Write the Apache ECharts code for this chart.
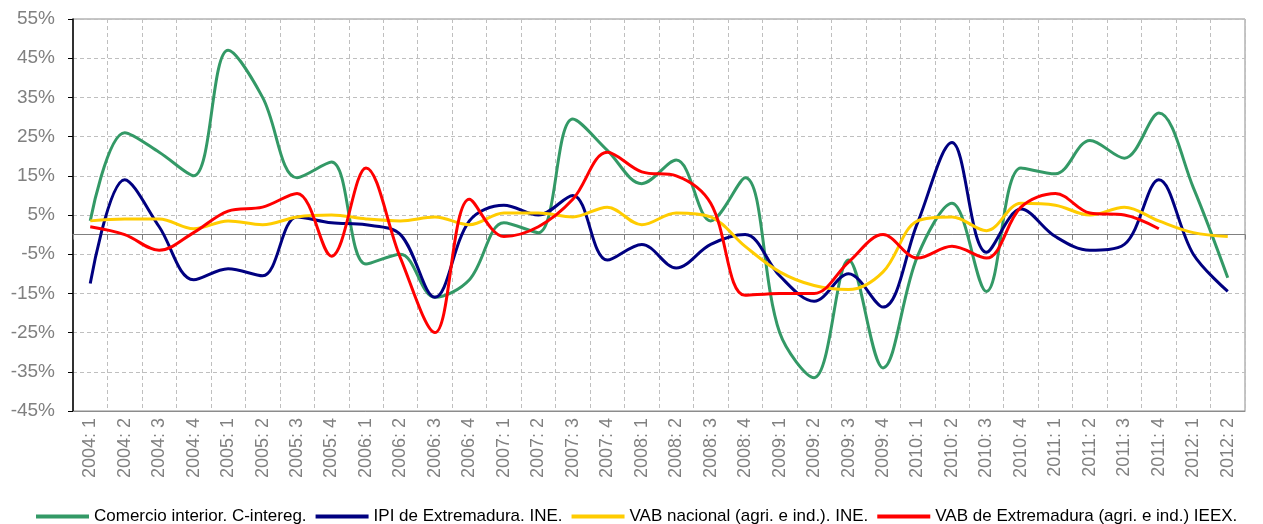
<!DOCTYPE html>
<html>
<head>
<meta charset="utf-8">
<script src="https://cdn.jsdelivr.net/npm/echarts@6/dist/echarts.min.js"></script>
<style>
  html, body { margin: 0; padding: 0; background: #fff; }
  #chart { width: 1263px; height: 524px; }
</style>
</head>
<body>
<div id="chart"></div>
<script>
  // trimestres
  var quarters = [
    '2004:1', '2004:2', '2004:3', '2004:4', '2005:1', '2005:2', '2005:3', '2005:4',
    '2006:1', '2006:2', '2006:3', '2006:4', '2007:1', '2007:2', '2007:3', '2007:4',
    '2008:1', '2008:2', '2008:3', '2008:4', '2009:1', '2009:2', '2009:3', '2009:4',
    '2010:1', '2010:2', '2010:3', '2010:4', '2011:1', '2011:2', '2011:3', '2011:4',
    '2012:1', '2012:2'
  ];

  var seriesNames = [
    'Comercio interior. C-intereg.',
    'IPI de Extremadura. INE.',
    'VAB nacional (agri. e ind.). INE.',
    'VAB de Extremadura (agri. e ind.) IEEX.'
  ];

  // tasas de variación (%)
  var comercio = [3.5, 26, 21, 15, 47, 35, 14.5, 18.5, -7.5, -5, -16, -11.5, 3, 0.5, 29.5, 21.5,
    13, 19, 3.5, 14.5, -25, -36.5, -6.5, -34, -5.5, 8, -14.5, 17, 15.5, 24, 19.5, 31, 12, -11];
  var ipi = [-12.5, 14, 2, -11.5, -8.7, -10.5, 4.5, 3, 2.5, 0, -16, 3.5, 7.5, 5, 10, -6.5,
    -2.5, -8.5, -2.5, 0, -10.5, -17, -10, -18.5, 3, 23.5, -4.5, 6.5, -0.5, -4, -2.5, 14, -5, -14.5];
  var vabNacional = [3.5, 4, 4, 1.5, 3.5, 2.5, 4.5, 5, 4, 3.5, 4.5, 2.5, 5.5, 5.5, 4.5, 7,
    2.5, 5.5, 4.5, -3, -9.5, -13, -14, -9.5, 3.5, 4.5, 1, 8, 7.5, 5, 7, 3.5, 0.5, -0.5];
  var vabExtremadura = [2, 0, -4, 0.5, 6, 7, 10.5, -5.5, 17, -6, -25, 9, -0.5, 2, 9, 21,
    16, 15, 8, -15.5, -15, -15, -7, 0, -6, -3, -6, 7, 10.5, 5.5, 5, 1.5, null, null];

  var yTicks = { min: -45, max: 55, step: 10 };

  var colors = ['#339966', '#000080', '#FFCC00', '#FF0000'];
  var font = 'Liberation Sans, Arial, sans-serif';

  var chart = echarts.init(document.getElementById('chart'));

  function lineSeries(name, data, color) {
    return {
      name: name,
      type: 'line',
      data: data,
      xAxisIndex: 0,
      smooth: 0.35,
      showSymbol: false,
      connectNulls: false,
      lineStyle: { width: 3, color: color },
      itemStyle: { color: color }
    };
  }

  chart.setOption({
    animation: false,
    textStyle: { fontFamily: font },
    color: colors,
    grid: {
      left: 73, right: 18, top: 19, bottom: 113,
      show: true, borderColor: '#8c8c8c', borderWidth: 1
    },
    legend: {
      top: 508,
      left: 36,
      padding: 0,
      icon: 'rect',
      itemWidth: 53,
      itemHeight: 4,
      itemGap: 9,
      textStyle: { fontSize: 17, color: '#000', fontFamily: font },
      data: seriesNames
    },
    xAxis: [{
      type: 'category',
      data: quarters,
      position: 'bottom',
      axisLine: { onZero: false, lineStyle: { color: '#8c8c8c', width: 1 } },
      axisTick: { show: false },
      axisLabel: {
        rotate: 90, fontSize: 18, color: '#808080', margin: 7, interval: 0,
        formatter: function (v) { return v.replace(':', ': '); }
      },
      splitLine: { show: true, interval: 0, lineStyle: { color: '#bfbfbf', type: [4, 3], width: 1 } }
    }, {
      type: 'category',
      data: quarters,
      position: 'top',
      axisLine: { onZero: true, lineStyle: { color: '#808080', width: 1 } },
      axisTick: { show: true, inside: true, length: 5, interval: 0, lineStyle: { color: '#808080' } },
      axisLabel: { show: false },
      splitLine: { show: false }
    }],
    yAxis: {
      type: 'value',
      min: yTicks.min,
      max: yTicks.max,
      interval: yTicks.step,
      axisLine: { show: true, onZero: false, lineStyle: { color: '#000', width: 1.5 } },
      axisTick: { show: true, length: 5, lineStyle: { color: '#000' } },
      axisLabel: {
        fontSize: 19, color: '#808080', margin: 18,
        formatter: function (v) { return v + '%'; }
      },
      splitLine: { show: true, lineStyle: { color: '#bfbfbf', type: [4, 3], width: 1 } }
    },
    series: [
      lineSeries(seriesNames[0], comercio, colors[0]),
      lineSeries(seriesNames[1], ipi, colors[1]),
      lineSeries(seriesNames[2], vabNacional, colors[2]),
      lineSeries(seriesNames[3], vabExtremadura, colors[3])
    ]
  });
</script>
</body>
</html>
